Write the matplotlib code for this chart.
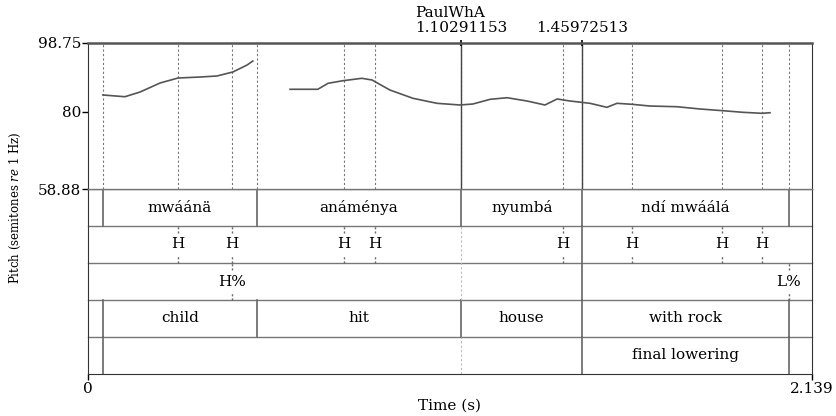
import matplotlib.pyplot as plt
import matplotlib.transforms as mtransforms

plt.rcParams['font.family'] = ['DejaVu Serif']
plt.rcParams['mathtext.fontset'] = 'dejavuserif'

t_max = 2.139
cursor1 = 1.10291153
cursor2 = 1.45972513

# pitch contour (semitones re 1 Hz), two voiced stretches
seg1_t = [0.044, 0.109, 0.154, 0.213, 0.266, 0.331, 0.381, 0.428, 0.470, 0.487]
seg1_p = [84.55, 84.08, 85.37, 87.83, 89.19, 89.46, 89.74, 90.83, 92.74, 93.83]
seg2_t = [0.597, 0.679, 0.709, 0.753, 0.809, 0.839, 0.892, 0.960, 1.031, 1.099,
          1.137, 1.188, 1.238, 1.297, 1.350, 1.386, 1.424, 1.483, 1.533, 1.563,
          1.607, 1.660, 1.740, 1.808, 1.876, 1.935, 1.991, 2.015]
seg2_p = [86.11, 86.11, 87.74, 88.45, 89.11, 88.65, 85.91, 83.65, 82.28, 81.82,
          82.09, 83.37, 83.81, 82.91, 81.82, 83.46, 82.91, 82.28, 81.19, 82.28,
          82.01, 81.54, 81.35, 80.73, 80.26, 79.82, 79.55, 79.71]
p_min, p_max = 58.88, 98.75

# TextGrid tiers
word_edges = [0.044, 0.499, cursor1, cursor2, 2.071]
words = ['mwáánä', 'anáménya', 'nyumbá', 'ndí mwáálá']
gloss = ['child', 'hit', 'house', 'with rock']
tone_times = [0.266, 0.426, 0.757, 0.848, 1.403, 1.607, 1.873, 1.991]
tone_labels = ['H', 'H', 'H', 'H', 'H', 'H', 'H', 'H']
btone_times = [0.426, 2.071]
btone_labels = ['H%', 'L%']
fl_edges = [0.044, cursor2, 2.071]
fl_labels = ['', 'final lowering']

W, H = 837, 416
fig = plt.figure(figsize=(W / 100, H / 100), dpi=100)
left, right = 88, 812
axt = fig.add_axes([left / W, 1 - 374 / H, (right - left) / W, 185 / H])
ax = fig.add_axes([left / W, 1 - 189 / H, (right - left) / W, 146 / H])

fs = 11
grey = '#777777'

# ---- pitch panel
all_marks = sorted(set(word_edges + tone_times + btone_times))
for t in all_marks:
    ax.axvline(t, color=grey, lw=0.8, ls=(0, (2, 2)), zorder=1)
for t in (cursor1, cursor2):
    ax.axvline(t, color='#444444', lw=1.0, zorder=2)
    ax.plot([t], [p_max], marker='|', ms=5, mew=1.2, color='k', clip_on=False)
ax.plot(seg1_t, seg1_p, color='#555555', lw=1.2, zorder=3)
ax.plot(seg2_t, seg2_p, color='#555555', lw=1.2, zorder=3)
ax.set_xlim(0, t_max)
ax.set_ylim(p_min, p_max)
ax.set_xticks([])
ax.set_yticks([p_min, 80, p_max])
ax.set_yticklabels(['58.88', '80', '98.75'], fontsize=fs)
ax.tick_params(axis='y', direction='out', length=4, width=1, pad=1)
for s in ('left', 'right'):
    ax.spines[s].set_color('#333333')
ax.spines['top'].set_linewidth(1.8)
ax.spines['top'].set_color('#555555')
ax.spines['bottom'].set_color(grey)
ax.spines['bottom'].set_linewidth(1.0)

tr = mtransforms.blended_transform_factory(ax.transData, ax.transAxes)
ax.text(cursor1, 1 + 15 / 146, '%.8f' % cursor1, transform=tr, ha='center',
        va='center', fontsize=fs)
ax.text(cursor2, 1 + 15 / 146, '%.8f' % cursor2, transform=tr, ha='center',
        va='center', fontsize=fs)
fig.text(450 / W, 1 - 13 / H, 'PaulWhA', ha='center', va='center', fontsize=fs)

# ---- tiers panel (tier i occupies y in [4-i, 5-i])
axt.set_xlim(0, t_max)
axt.set_ylim(0, 5)
for y in (1, 2, 3, 4, 5):
    axt.axhline(y, color=grey, lw=1.0, clip_on=False)


def interval_tier(row, edges, labels):
    lo, hi = 4 - row, 5 - row
    for t in edges:
        axt.plot([t, t], [lo, hi], color='#666666', lw=1.2)
    for a, b, lab in zip(edges[:-1], edges[1:], labels):
        axt.text((a + b) / 2, (lo + hi) / 2, lab, ha='center', va='center',
                 fontsize=fs)


def point_tier(row, times, labels):
    lo, hi = 4 - row, 5 - row
    for t, lab in zip(times, labels):
        axt.plot([t, t], [hi - 0.2, hi], color='#666666', lw=1.0, ls=(0, (1.5, 1.5)))
        axt.plot([t, t], [lo, lo + 0.2], color='#666666', lw=1.0, ls=(0, (1.5, 1.5)))
        axt.text(t, (lo + hi) / 2, lab, ha='center', va='center', fontsize=fs)


interval_tier(0, word_edges, words)
point_tier(1, tone_times, tone_labels)
point_tier(2, btone_times, btone_labels)
interval_tier(3, word_edges, gloss)
interval_tier(4, fl_edges, fl_labels)

# cursor lines through the other tiers
axt.plot([cursor1, cursor1], [0, 1], color='#bbbbbb', lw=0.8, ls=(0, (2, 2)))
axt.plot([cursor1, cursor1], [2, 4], color='#bbbbbb', lw=0.8, ls=(0, (2, 2)))
axt.plot([cursor2, cursor2], [2, 4], color='#666666', lw=1.2)

axt.set_yticks([])
axt.set_xticks([0, t_max])
axt.set_xticklabels(['0', '2.139'], fontsize=fs)
axt.tick_params(axis='x', direction='out', length=4, width=1, pad=2)
axt.spines['top'].set_visible(False)
for s in ('left', 'right', 'bottom'):
    axt.spines[s].set_color('#333333')
axt.set_xlabel('Time (s)', fontsize=fs, labelpad=2)

fig.text(15 / W, 1 - 208 / H, r'Pitch (semitones $\it{re}$ 1 Hz)', rotation=90,
         ha='center', va='center', fontsize=8.5)

fig.savefig('out.png', dpi=100)
